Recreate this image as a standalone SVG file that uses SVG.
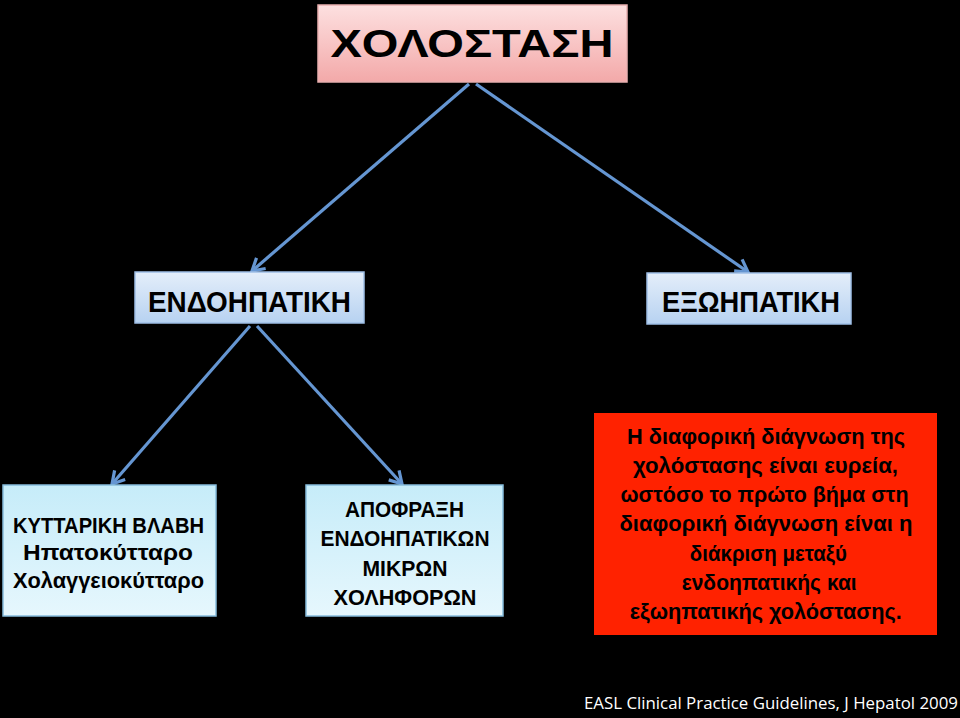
<svg xmlns="http://www.w3.org/2000/svg" width="960" height="718" viewBox="0 0 960 718">
<defs>
<linearGradient id="gPink" x1="0" y1="0" x2="0" y2="1"><stop offset="0" stop-color="#fde0e0"/><stop offset="1" stop-color="#f3a9a9"/></linearGradient>
<linearGradient id="gBlue" x1="0" y1="0" x2="0" y2="1"><stop offset="0" stop-color="#e4eefa"/><stop offset="1" stop-color="#b7d2f1"/></linearGradient>
<linearGradient id="gCyan" x1="0" y1="0" x2="0" y2="1"><stop offset="0" stop-color="#c6ecf9"/><stop offset="1" stop-color="#e6f7fd"/></linearGradient>
<marker id="arr" markerUnits="userSpaceOnUse" markerWidth="18" markerHeight="18" viewBox="0 0 18 18" refX="15" refY="9" orient="auto">
<path d="M3,2 L15,9 L3,16" fill="none" stroke="#6596d2" stroke-width="3.2" stroke-linejoin="miter"/>
</marker>
<style>
.t{font-family:"Liberation Sans","Noto Sans",sans-serif;font-weight:700;fill:#000;text-anchor:middle}
.r{font-family:"Open Sans","Noto Sans","Liberation Sans",sans-serif;font-weight:400;fill:#fff;text-anchor:start}
.ln{stroke:#6596d2;stroke-width:3.2;fill:none;marker-end:url(#arr)}
</style>
</defs>
<rect width="960" height="718" fill="#000"/>
<g id="connectors">
<line class="ln" x1="469" y1="84" x2="252" y2="271"/>
<line class="ln" x1="476" y1="84" x2="748" y2="272"/>
<line class="ln" x1="250" y1="326" x2="112" y2="484"/>
<line class="ln" x1="257" y1="326" x2="402" y2="484"/>
</g>
<g id="title">
<rect x="318" y="5" width="309" height="77" fill="url(#gPink)" stroke="#e9b0b0" stroke-width="1.5"/>
<text class="t" x="472" y="57" font-size="39" textLength="283" lengthAdjust="spacingAndGlyphs">ΧΟΛΟΣΤΑΣΗ</text>
</g>
<g id="endo">
<rect x="135" y="272" width="229" height="51" fill="url(#gBlue)" stroke="#9fbfe6" stroke-width="1.5"/>
<text class="t" x="249.5" y="312" font-size="29" textLength="203" lengthAdjust="spacingAndGlyphs">ΕΝΔΟΗΠΑΤΙΚΗ</text>
</g>
<g id="exo">
<rect x="647" y="273" width="204" height="51" fill="url(#gBlue)" stroke="#9fbfe6" stroke-width="1.5"/>
<text class="t" x="751" y="312" font-size="29" textLength="178" lengthAdjust="spacingAndGlyphs">ΕΞΩΗΠΑΤΙΚΗ</text>
</g>
<g id="cell">
<rect x="3" y="485" width="213" height="131" fill="url(#gCyan)" stroke="#86bcdc" stroke-width="1.5"/>
<text class="t" x="108.5" y="533" font-size="22" textLength="191" lengthAdjust="spacingAndGlyphs">ΚΥΤΤΑΡΙΚΗ ΒΛΑΒΗ</text>
<text class="t" x="108" y="560" font-size="22" textLength="170" lengthAdjust="spacingAndGlyphs">Ηπατοκύτταρο</text>
<text class="t" x="108.5" y="588" font-size="22" textLength="191" lengthAdjust="spacingAndGlyphs">Χολαγγειοκύτταρο</text>
</g>
<g id="pm">
<text class="t" x="267" y="564" font-size="20" font-weight="400">±</text>
</g>
<g id="obstr">
<rect x="306" y="485" width="197" height="131" fill="url(#gCyan)" stroke="#86bcdc" stroke-width="1.5"/>
<text class="t" x="404.5" y="517" font-size="22" textLength="119" lengthAdjust="spacingAndGlyphs">ΑΠΟΦΡΑΞΗ</text>
<text class="t" x="405" y="546" font-size="22" textLength="169" lengthAdjust="spacingAndGlyphs">ΕΝΔΟΗΠΑΤΙΚΩΝ</text>
<text class="t" x="405" y="575.5" font-size="22" textLength="85" lengthAdjust="spacingAndGlyphs">ΜΙΚΡΩΝ</text>
<text class="t" x="405" y="605" font-size="22" textLength="143" lengthAdjust="spacingAndGlyphs">ΧΟΛΗΦΟΡΩΝ</text>
</g>
<g id="note">
<rect x="594" y="413" width="343" height="222" fill="#ff2200"/>
<text class="t" x="766" y="443.5" font-size="22" textLength="278" lengthAdjust="spacingAndGlyphs">Η διαφορική διάγνωση της</text>
<text class="t" x="765.5" y="472.8" font-size="22" textLength="265" lengthAdjust="spacingAndGlyphs">χολόστασης είναι ευρεία,</text>
<text class="t" x="764.5" y="502" font-size="22" textLength="288" lengthAdjust="spacingAndGlyphs">ωστόσο το πρώτο βήμα στη</text>
<text class="t" x="766" y="531.3" font-size="22" textLength="293" lengthAdjust="spacingAndGlyphs">διαφορική διάγνωση είναι η</text>
<text class="t" x="768.3" y="560.5" font-size="22" textLength="157" lengthAdjust="spacingAndGlyphs">διάκριση μεταξύ</text>
<text class="t" x="769.2" y="589.8" font-size="22" textLength="175" lengthAdjust="spacingAndGlyphs">ενδοηπατικής και</text>
<text class="t" x="765.8" y="619.2" font-size="22" textLength="272" lengthAdjust="spacingAndGlyphs">εξωηπατικής χολόστασης.</text>
</g>
<g id="footer">
<text class="r" x="584" y="709" font-size="17" textLength="374" lengthAdjust="spacingAndGlyphs">EASL Clinical Practice Guidelines, J Hepatol 2009</text>
</g>
</svg>
